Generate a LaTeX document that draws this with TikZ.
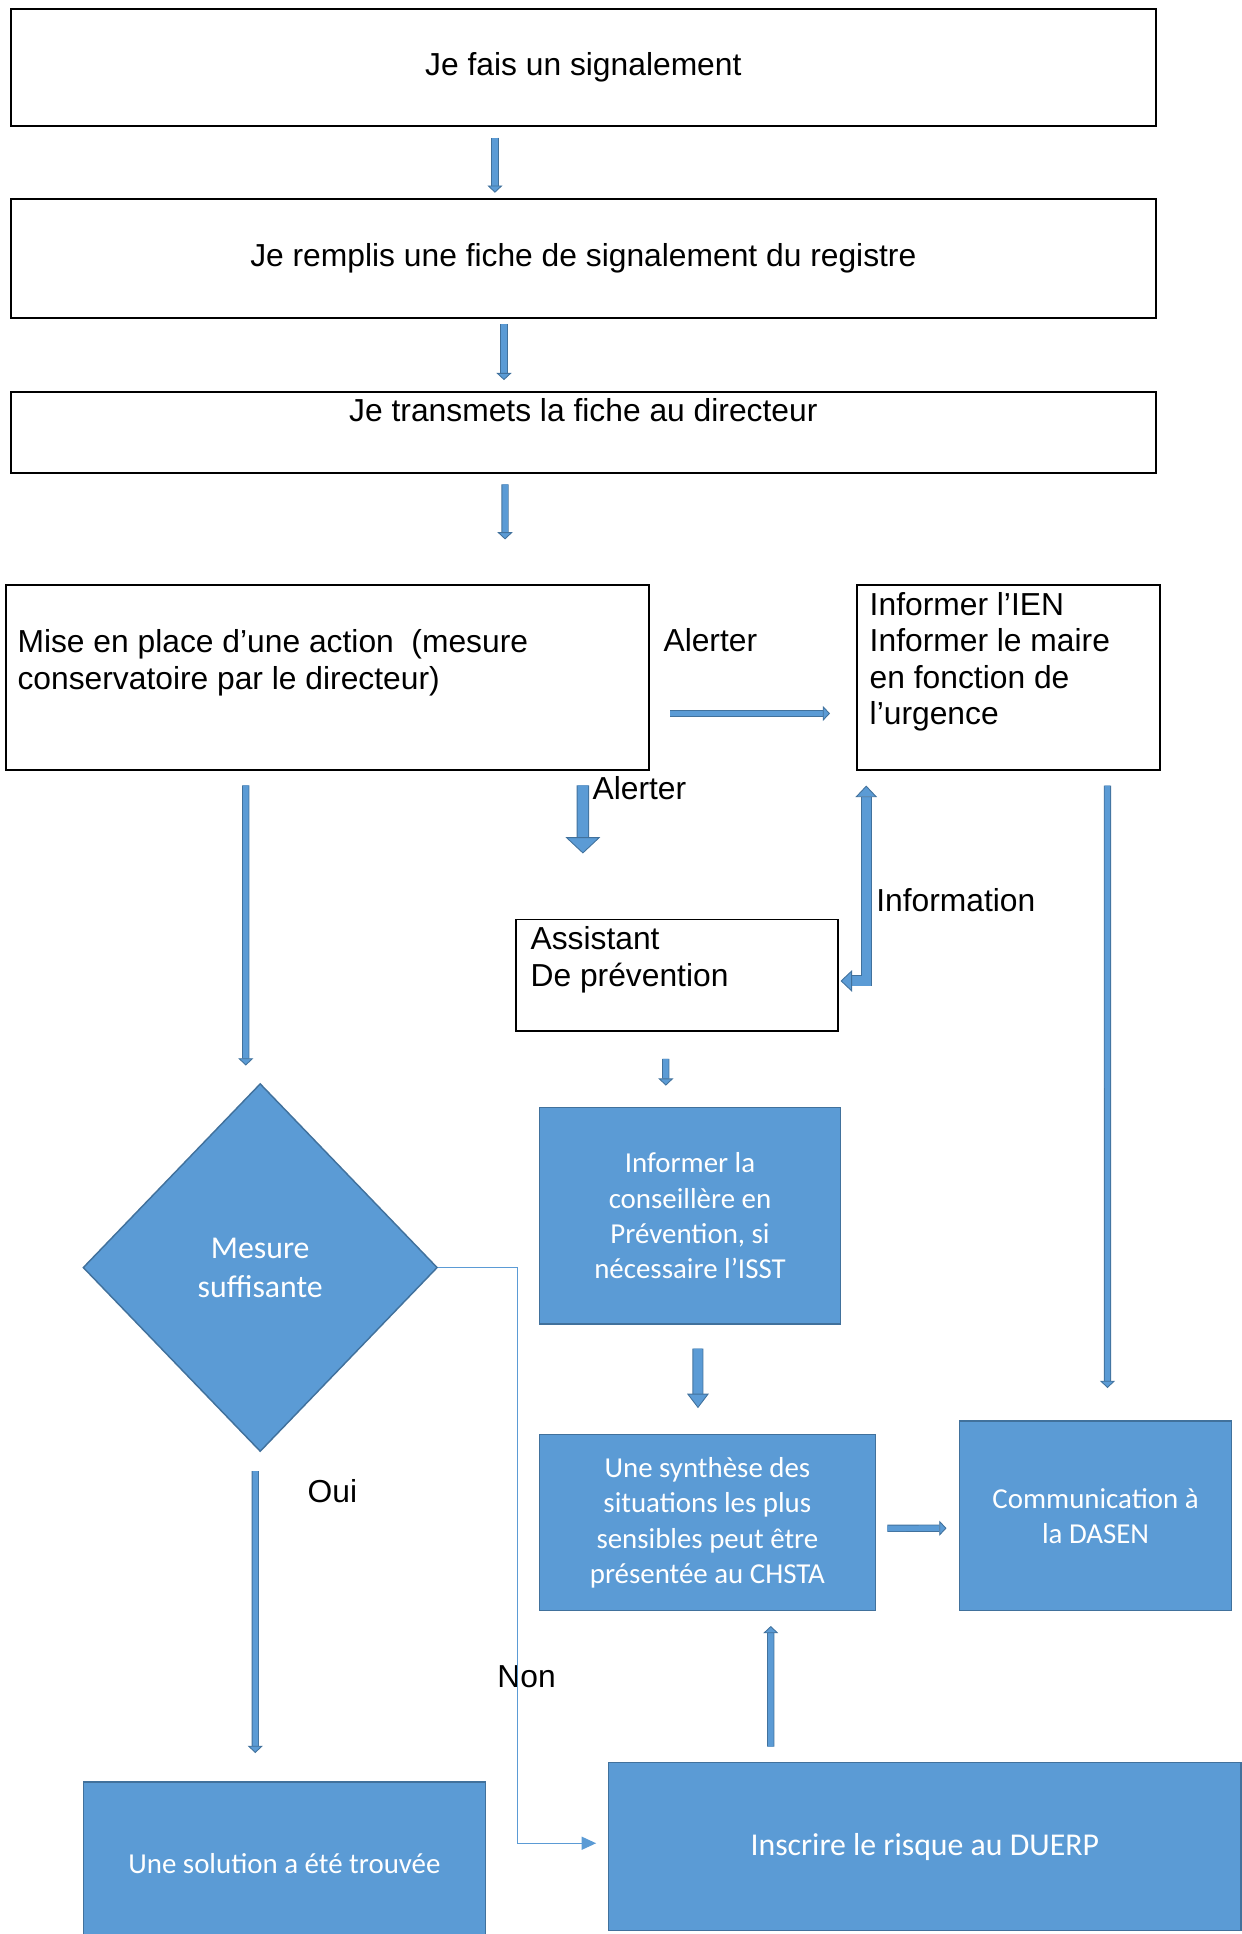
\documentclass[tikz,border=0pt]{standalone}
\usepackage{fontspec}
\setmainfont{Liberation Sans}
\newfontfamily\calibri{Carlito}
\usetikzlibrary{arrows.meta,shapes.geometric}

\definecolor{boxblue}{HTML}{5B9BD5}
\definecolor{boxedge}{HTML}{41719C}

\newcommand{\arialtext}{\fontsize{22pt}{25.3pt}\selectfont}
\newcommand{\calibritext}{\calibri\fontsize{20pt}{24.4pt}\selectfont}
\newcommand{\calibribig}{\calibri\fontsize{22pt}{26.9pt}\selectfont}

\tikzset{
  whitebox/.style={draw=black, line width=1.3pt, minimum width=27.84cm, inner sep=0, font=\arialtext},
  bluebox/.style={draw=boxedge, line width=1pt, fill=boxblue, text=white, inner sep=0, align=center, font=\calibritext},
  boxtext/.style={anchor=north west, inner sep=0, align=left, font=\arialtext},
  lbl/.style={anchor=base, inner sep=0, font=\arialtext},
  thinarrow/.style={draw=boxedge, line width=0.6pt, double=boxblue, double distance=3.8pt,
    -{Triangle[width=10.5pt, length=5pt, fill=boxblue]}},
  midarrow/.style={draw=boxedge, line width=0.6pt, double=boxblue, double distance=6.4pt,
    -{Triangle[width=15pt, length=10pt, fill=boxblue]}},
  fatarrow/.style={draw=boxedge, line width=0.6pt, double=boxblue, double distance=7.3pt,
    -{Triangle[width=24pt, length=11.3pt, fill=boxblue]}},
  nonline/.style={draw=boxblue, line width=0.9pt, -{Triangle[width=9pt, length=10pt]}}
}

\begin{document}
\begin{tikzpicture}[x=0.03cm, y=-0.03cm]
  \useasboundingbox (0,0) rectangle (1007,1568.2);

  % the three steps at the top
  \node[whitebox, minimum height=2.83cm] (sig) at (473,54.8) {Je fais un signalement};
  \node[whitebox, minimum height=2.89cm] (fiche) at (473,209.8) {Je remplis une fiche de signalement du registre};
  \node[whitebox, minimum height=1.97cm, text height=0.72cm, text depth=1.25cm] (dir) at (473,350.8) {Je transmets la fiche au directeur};

  % white boxes with text at the top left
  \node[whitebox, minimum width=15.64cm, minimum height=4.5cm] (mise) at (265.4,549.5) {};
  \node[whitebox, minimum width=7.365cm, minimum height=4.5cm] (ien) at (817.5,549.5) {};
  \node[whitebox, minimum width=7.83cm, minimum height=2.72cm] (assist) at (548.65,790.9) {};
  \node[boxtext] (misetext) at (14,508.2) {\strut Mise en place d’une action \ (mesure\\conservatoire par le directeur)};
  \node[boxtext] (ientext) at (705,477.8) {\strut Informer l’IEN\\Informer le maire\\en fonction de\\l’urgence};
  \node[boxtext] (assisttext) at (430,749.2) {\strut Assistant\\De prévention};

  % blue boxes
  \node[bluebox, minimum width=7.326cm, minimum height=5.26cm] (conseil) at (559.5,985.75) {Informer la\\conseillère en\\Prévention, si\\nécessaire l’ISST};
  \node[bluebox, minimum width=8.18cm, minimum height=4.28cm] (synth) at (573.6,1234.7) {Une synthèse des\\situations les plus\\sensibles peut être\\présentée au CHSTA};
  \node[bluebox, minimum width=6.62cm, minimum height=4.61cm] (dasen) at (888.35,1229.15) {Communication à\\la DASEN};
  \node[bluebox, diamond, minimum width=8.62cm, minimum height=8.95cm, font=\calibribig] (mesure) at (211,1027.8) {Mesure\\suffisante};
  \node[bluebox, minimum width=9.78cm, minimum height=3.96cm] (solution) at (230.6,1511) {Une solution a été trouvée};
  \node[bluebox, minimum width=15.39cm, minimum height=4.08cm, font=\calibribig] (duerp) at (749.85,1497.3) {Inscrire le risque au DUERP};

  % labels
  \node[lbl] (alerter1) at (576,528.4) {Alerter};
  \node[lbl] (alerter2) at (518.5,648.6) {Alerter};
  \node[lbl] (info) at (775,739) {Information};
  \node[lbl] (oui) at (269.5,1218.4) {Oui};
  \node[lbl] (non) at (427,1368) {Non};

  % arrows
  \draw[thinarrow, shorten <=7.65pt, shorten >=3.9pt] ([xshift=-2.15cm]sig.south) -- ([xshift=-2.15cm]fiche.north);
  \draw[thinarrow, shorten <=3.4pt, shorten >=7.65pt] ([xshift=-1.93cm]fiche.south) -- ([xshift=-1.93cm]dir.north);
  \draw[thinarrow, shorten <=7.1pt, shorten >=31pt] ([xshift=-1.905cm]dir.south) -- ([xshift=4.323cm]mise.north);
  \draw[thinarrow, shorten <=14.3pt, shorten >=17.9pt] ([yshift=-0.87cm]mise.east) -- ([yshift=-0.87cm]ien.west);
  \draw[fatarrow, shorten <=9.8pt, shorten >=45pt] ([xshift=6.216cm]mise.south) -- ([xshift=-2.28cm]assist.north);
  \draw[thinarrow, shorten <=9.8pt, shorten >=12pt] ([xshift=-1.983cm]mise.south) -- ([xshift=-0.351cm]mesure.north);
  \draw[thinarrow, shorten <=10pt, shorten >=22.4pt] ([xshift=2.415cm]ien.south) -- ([xshift=0.29cm]dasen.north);
  \draw[midarrow, {Triangle[width=15pt, length=8pt, fill=boxblue]}-{Triangle[width=15pt, length=8pt, fill=boxblue]}, shorten <=10pt, shorten >=1.4pt] ([xshift=-3.453cm]ien.south) |- ([yshift=-0.135cm]assist.east);
  \draw[thinarrow, shorten <=18.4pt, shorten >=14.7pt] ([xshift=-0.2625cm]assist.south) -- ([xshift=-0.588cm]conseil.north);
  \draw[midarrow, shorten <=16.7pt, shorten >=17.9pt] ([xshift=0.19cm]conseil.south) -- ([xshift=-0.228cm]synth.north);
  \draw[thinarrow, shorten <=7.65pt, shorten >=8.5pt] ([yshift=-0.135cm]synth.east) -- ([yshift=-0.3cm]dasen.west);
  \draw[thinarrow, shorten <=13.1pt, shorten >=19.6pt] ([xshift=-0.12cm]mesure.south) -- ([xshift=-0.708cm]solution.north);
  \draw[thinarrow, shorten <=10.7pt, shorten >=10.1pt] ([xshift=-3.7455cm]duerp.north) -- ([xshift=1.542cm]synth.south);
  \draw[nonline, shorten >=8pt] (mesure.east) -- ++(1.935cm,0) |- ([yshift=0.081cm]duerp.west);
\end{tikzpicture}
\end{document}
